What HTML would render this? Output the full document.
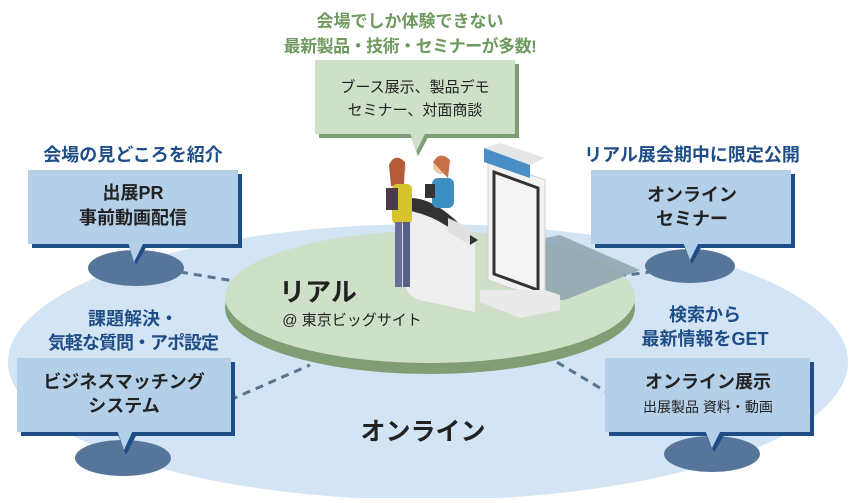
<!DOCTYPE html>
<html><head><meta charset="utf-8"><style>
body{margin:0;width:858px;height:498px;overflow:hidden;background:#fff;font-family:"Liberation Sans","Noto Sans CJK JP",sans-serif;}
svg text{font-family:"Liberation Sans","Noto Sans CJK JP",sans-serif;}
</style></head><body>
<svg width="858" height="498" viewBox="0 0 858 498">
<ellipse cx="428" cy="362" rx="420" ry="138" fill="#d3e4f4"/>
<g stroke="#557590" stroke-width="3" stroke-dasharray="8,6" fill="none">
<line x1="180" y1="272" x2="240" y2="282"/>
<line x1="230" y1="400" x2="310" y2="365"/>
<line x1="590" y1="280" x2="650" y2="272"/>
<line x1="545" y1="355" x2="620" y2="400"/>
</g>
<ellipse cx="430" cy="308" rx="205" ry="66" fill="#7f9e74"/>
<ellipse cx="430" cy="297" rx="205" ry="66" fill="#cfe0c9"/>
<polygon points="545,238 560,235 640,270 565,300 520,300" fill="#8aa0ae" opacity="0.8"/>
<polygon points="488,160 545,180 545,300 488,280" fill="#f2f2f2" stroke="#d0d0d0"/>
<polygon points="494,172 538,188 538,290 494,274" fill="#f4f4f4" stroke="#333" stroke-width="3"/>
<polygon points="484,148 530,165 545,158 500,143" fill="#e6e6e6"/>
<polygon points="484,148 530,165 530,178 484,162" fill="#4a8ec8"/>
<polygon points="545,290 560,295 560,310 520,318 480,302 480,290" fill="#e9e9e9"/>
<path d="M405,205 L475,238 L475,312 L420,300 Q405,296 405,280 Z" fill="#efefef"/>
<path d="M400,200 Q430,190 470,235 L478,240 L470,245 Q440,215 405,210 Z" fill="#333"/>
<polygon points="448,218 470,228 470,245 448,232" fill="#e0e0e0"/>
<circle cx="441" cy="166" r="8" fill="#f0c8a8"/>
<path d="M433,162 Q440,150 450,160 L448,178 Q440,170 433,162Z" fill="#c8704a"/>
<rect x="432" y="178" width="22" height="30" rx="6" fill="#3c8fc0"/>
<rect x="425" y="184" width="10" height="14" fill="#333"/>
<circle cx="398" cy="168" r="8" fill="#f0c8a8"/>
<path d="M389,165 Q395,152 405,162 L404,186 L391,186Z" fill="#b55a3a"/>
<rect x="392" y="184" width="20" height="40" rx="5" fill="#d5c42e"/>
<rect x="386" y="188" width="12" height="22" fill="#4a3a4a"/>
<rect x="395" y="222" width="7" height="65" fill="#6a6f98"/>
<rect x="403" y="222" width="7" height="65" fill="#5a5f88"/>
<g>
<rect x="32" y="174" width="210" height="74" fill="#1f4e86"/>
<rect x="28" y="170" width="210" height="74" fill="#b3d0e8"/>
<ellipse cx="136" cy="268" rx="48" ry="18" fill="#55769a"/>
<polygon points="128,244 148,244 136,265" fill="#1f4e86"/><polygon points="128,242 144,242 134,262" fill="#b3d0e8"/>
<rect x="21" y="362" width="214" height="74" fill="#1f4e86"/>
<rect x="17" y="358" width="214" height="74" fill="#b3d0e8"/>
<ellipse cx="123" cy="458" rx="48" ry="18" fill="#55769a"/>
<polygon points="117,432 138,432 126,455" fill="#1f4e86"/><polygon points="117,430 133,430 124,450" fill="#b3d0e8"/>
<rect x="595" y="174" width="200" height="74" fill="#1f4e86"/>
<rect x="591" y="170" width="200" height="74" fill="#b3d0e8"/>
<ellipse cx="690" cy="266" rx="45" ry="17" fill="#55769a"/>
<polygon points="683,244 703,244 692,264" fill="#1f4e86"/><polygon points="683,242 699,242 690,260" fill="#b3d0e8"/>
<rect x="609" y="362" width="205" height="74" fill="#1f4e86"/>
<rect x="605" y="358" width="205" height="74" fill="#b3d0e8"/>
<ellipse cx="712" cy="454" rx="48" ry="18" fill="#55769a"/>
<polygon points="705,432 726,432 714,452" fill="#1f4e86"/><polygon points="705,430 721,430 712,448" fill="#b3d0e8"/>
<rect x="319" y="64" width="200" height="74" fill="#7e9e74"/>
<rect x="315" y="60" width="200" height="74" fill="#cfe0c9"/>
<polygon points="410,134 430,134 418,156" fill="#7e9e74"/><polygon points="410,132 426,132 416,152" fill="#cfe0c9"/>
</g>
<g font-weight="bold" text-anchor="middle">
<text x="410" y="27" font-size="17" fill="#6f9a5f">会場でしか体験できない</text>
<text x="410" y="52" font-size="17" fill="#6f9a5f" letter-spacing="-0.5">最新製品・技術・セミナーが多数!</text>
<text x="133" y="161" font-size="18" fill="#1f4e86">会場の見どころを紹介</text>
<text x="133" y="199" font-size="18" fill="#222">出展PR</text>
<text x="133" y="224" font-size="18" fill="#222">事前動画配信</text>
<text x="133" y="325" font-size="18" fill="#1f4e86">課題解決・</text>
<text x="133" y="349" font-size="18" fill="#1f4e86" letter-spacing="-1">気軽な質問・アポ設定</text>
<text x="124" y="388" font-size="18" fill="#222">ビジネスマッチング</text>
<text x="124" y="412" font-size="18" fill="#222">システム</text>
<text x="692" y="161" font-size="18" fill="#1f4e86">リアル展会期中に限定公開</text>
<text x="692" y="201" font-size="18" fill="#222">オンライン</text>
<text x="692" y="225" font-size="18" fill="#222">セミナー</text>
<text x="705" y="321" font-size="18" fill="#1f4e86">検索から</text>
<text x="705" y="345" font-size="18" fill="#1f4e86">最新情報をGET</text>
<text x="708" y="388" font-size="18" fill="#222">オンライン展示</text>
<text x="423" y="440" font-size="25" fill="#222">オンライン</text>
<text x="318" y="301" font-size="26" fill="#222">リアル</text>
</g>
<g text-anchor="middle" fill="#222">
<text x="415" y="92" font-size="15">ブース展示、製品デモ</text>
<text x="415" y="115" font-size="15">セミナー、対面商談</text>
<text x="708" y="412" font-size="14">出展製品 資料・動画</text>
<text x="352" y="325" font-size="15">@ 東京ビッグサイト</text>
</g>
</svg>
</body></html>
